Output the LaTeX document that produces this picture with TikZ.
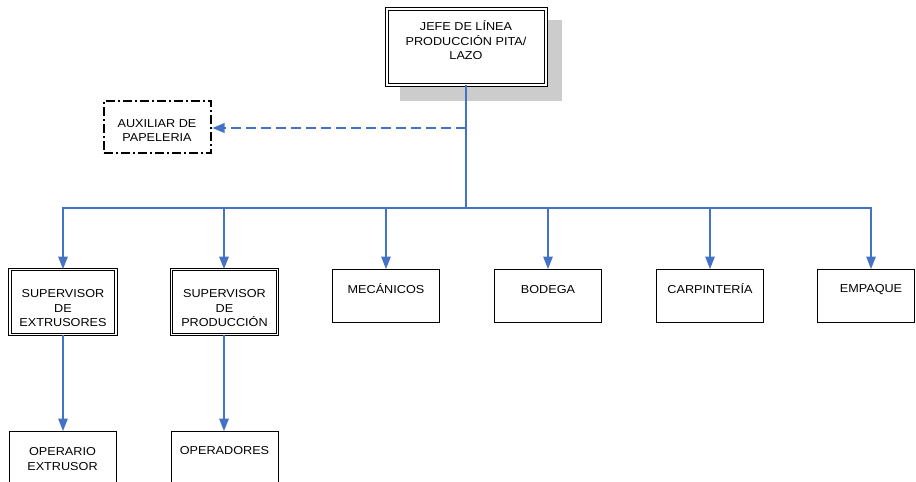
\documentclass[tikz,border=0pt]{standalone}
\usepackage{fontspec}
\setmainfont{Liberation Sans}[FakeStretch=1.1]
\usetikzlibrary{arrows.meta}
\definecolor{linkblue}{HTML}{4472C4}
\definecolor{shadowgray}{HTML}{CCCCCC}

\begin{document}
\begin{tikzpicture}[x=1pt,y=-1pt,
  box/.style={draw=black, line width=1pt, fill=white, inner sep=0pt},
  dbox/.style={draw=black, double=white, double distance=1.6pt, line width=0.9pt, fill=white, inner sep=0pt},
  dashdotbox/.style={draw=black, line width=2.3pt, dash pattern=on 9pt off 3pt on 2pt off 3pt, inner sep=0pt},
  txt/.style={font=\fontsize{11.5}{14.5}\selectfont, align=center, inner sep=0pt},
  tip/.style={-{Triangle[length=12.5pt,width=9.5pt]}},
  conn/.style={draw=linkblue, line width=1.4pt, tip},
  trunk/.style={draw=linkblue, line width=2.2pt},
  aux/.style={draw=linkblue, line width=2.3pt, dash pattern=on 10pt off 5pt, tip}
]
\useasboundingbox (0,0) rectangle (916,482);

% head of line with its drop shadow
\fill[shadowgray] (400,20) rectangle (562,101);
\node[dbox, double distance=2pt, line width=1pt, minimum width=159pt, minimum height=76pt] (jefe) at (466,46.5) {};
\node[txt] (jefetxt) at (466,40.5) {JEFE DE LÍNEA\\PRODUCCIÓN PITA/\\LAZO};

% staff position
\node[dashdotbox, minimum width=107pt, minimum height=52pt] (auxbox) at (157.5,127) {};
\node[txt] (auxtxt) at (157,130.5) {AUXILIAR DE\\PAPELERIA};

% second level
\node[dbox, minimum width=106pt, minimum height=65pt] (sup1) at (63,302) {};
\node[txt] (sup1txt) at (63,308.5) {SUPERVISOR\\DE\\EXTRUSORES};
\node[dbox, minimum width=106pt, minimum height=65pt] (sup2) at (224.5,302) {};
\node[txt] (sup2txt) at (224.5,308.5) {SUPERVISOR\\DE\\PRODUCCIÓN};

\node[box, minimum width=107pt, minimum height=53pt] (mec) at (386,296) {};
\node[txt] (mectxt) at (386,288.5) {MECÁNICOS};
\node[box, minimum width=107pt, minimum height=53pt] (bod) at (548,296) {};
\node[txt] (bodtxt) at (548,289.5) {BODEGA};
\node[box, minimum width=107pt, minimum height=53pt] (carp) at (710,296) {};
\node[txt] (carptxt) at (710,288.5) {CARPINTERÍA};
\node[box, minimum width=97pt, minimum height=53pt] (emp) at (866,296) {};
\node[txt] (emptxt) at (871,289.5) {EMPAQUE};

% third level
\node[box, minimum width=107pt, minimum height=70pt] (op1) at (62.5,466.5) {};
\node[txt] (op1txt) at (62.5,459) {OPERARIO\\EXTRUSOR};
\node[box, minimum width=107pt, minimum height=70pt] (op2) at (224.5,466.5) {};
\node[txt] (op2txt) at (224.5,450.5) {OPERADORES};

% connectors
\coordinate (bus) at (466,208);
\coordinate (auxjoin) at (466,128);
\coordinate (drop2) at (224,208);
\draw[trunk] (jefe.south) -- (bus);
\draw[aux] (auxjoin) -- (auxbox.east |- auxjoin);
\draw[conn] (bus) -| (sup1.north);
\draw[conn] (bus) -| (drop2 |- sup2.north);
\draw[conn] (bus) -| (mec.north);
\draw[conn] (bus) -| (bod.north);
\draw[conn] (bus) -| (carp.north);
\draw[conn] (bus) -| (emptxt |- emp.north);
\draw[conn] (sup1.south) -- (sup1.south |- op1.north);
\draw[conn] (drop2 |- sup2.south) -- (drop2 |- op2.north);
\end{tikzpicture}
\end{document}
